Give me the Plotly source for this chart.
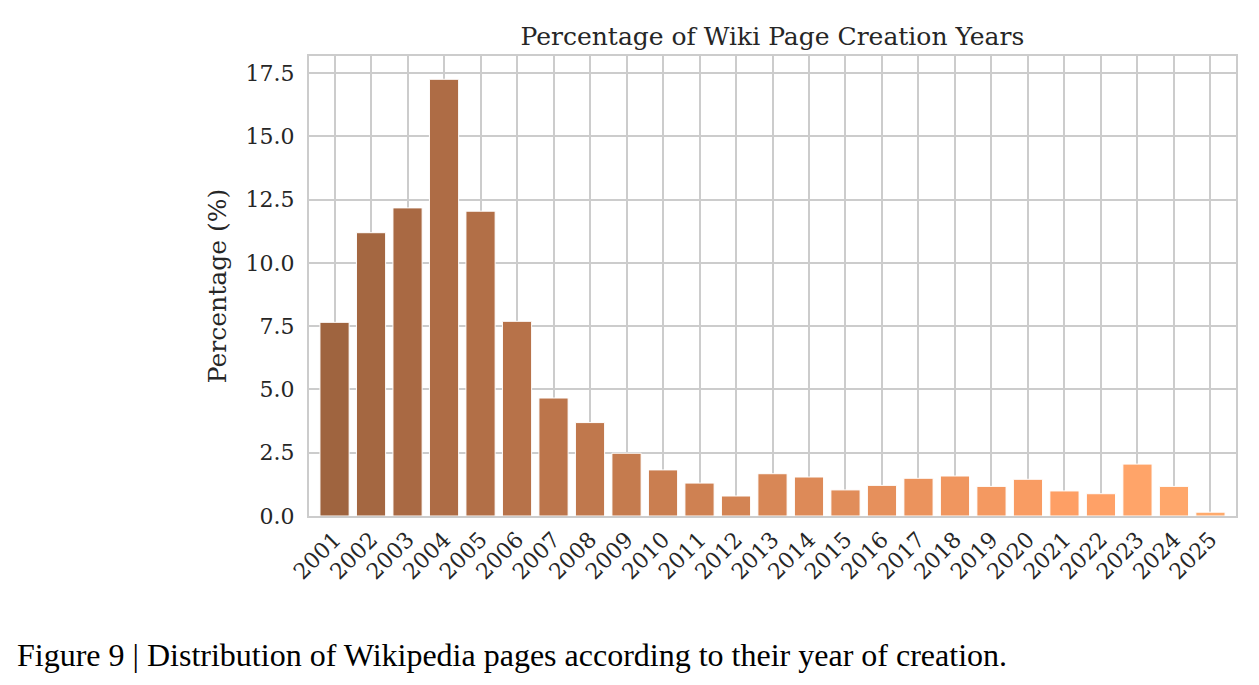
import plotly.graph_objects as go

years = [str(y) for y in range(2001, 2026)]
percentages = [7.65, 11.19, 12.17, 17.25, 12.04, 7.69, 4.66, 3.69, 2.48, 1.82,
               1.30, 0.79, 1.67, 1.54, 1.03, 1.21, 1.49, 1.58, 1.17, 1.45,
               0.99, 0.88, 2.05, 1.17, 0.15]
y_ticks = [0.0, 2.5, 5.0, 7.5, 10.0, 12.5, 15.0, 17.5]


def copper(x):
    r = min(1.0, 1.25 * x)
    g = 0.7812 * x
    b = 0.4975 * x
    return "rgb(%d,%d,%d)" % (round(r * 255), round(g * 255), round(b * 255))


n = len(years)
colors = [copper(0.5 + (0.855 - 0.5) * i / (n - 1)) for i in range(n)]

fig = go.Figure(
    go.Bar(
        x=years,
        y=percentages,
        marker=dict(color=colors, line=dict(color="white", width=1)),
    )
)

font_family = "DejaVu Serif"
fig.update_layout(
    width=1259,
    height=685,
    margin=dict(l=309, r=23, t=56, b=169),
    paper_bgcolor="white",
    plot_bgcolor="white",
    bargap=0.2,
    showlegend=False,
    font=dict(family=font_family, color="#262626", size=22),
    title=dict(
        text="Percentage of Wiki Page Creation Years",
        x=0.6135, xanchor="center",
        y=0.947, yanchor="middle",
        font=dict(family=font_family, size=25, color="#262626"),
    ),
    xaxis=dict(
        type="category",
        range=[-0.7, n - 1 + 0.7],
        tickangle=-45,
        showgrid=True,
        gridcolor="#cccccc",
        gridwidth=1.5,
        showline=True,
        mirror=True,
        linecolor="#cccccc",
        linewidth=2,
        ticks="",
        tickfont=dict(size=22),
    ),
    yaxis=dict(
        range=[0, 18.17],
        tickvals=y_ticks,
        tickformat=".1f",
        showgrid=True,
        gridcolor="#cccccc",
        gridwidth=1.5,
        zeroline=False,
        showline=True,
        mirror=True,
        linecolor="#cccccc",
        linewidth=2,
        ticks="",
        ticklabelstandoff=8,
        tickfont=dict(size=22),
        title=dict(text="Percentage (%)", font=dict(size=25), standoff=12),
    ),
)

fig.add_annotation(
    text="Figure 9 | Distribution of Wikipedia pages according to their year of creation.",
    xref="paper", yref="paper",
    x=-309 / (1259 - 309 - 23) + 15 / (1259 - 309 - 23), xanchor="left",
    y=-(655 - 516) / (516 - 56), yanchor="middle",
    showarrow=False,
    font=dict(family="Liberation Serif", size=32, color="black"),
)

fig.write_html("out.html")
